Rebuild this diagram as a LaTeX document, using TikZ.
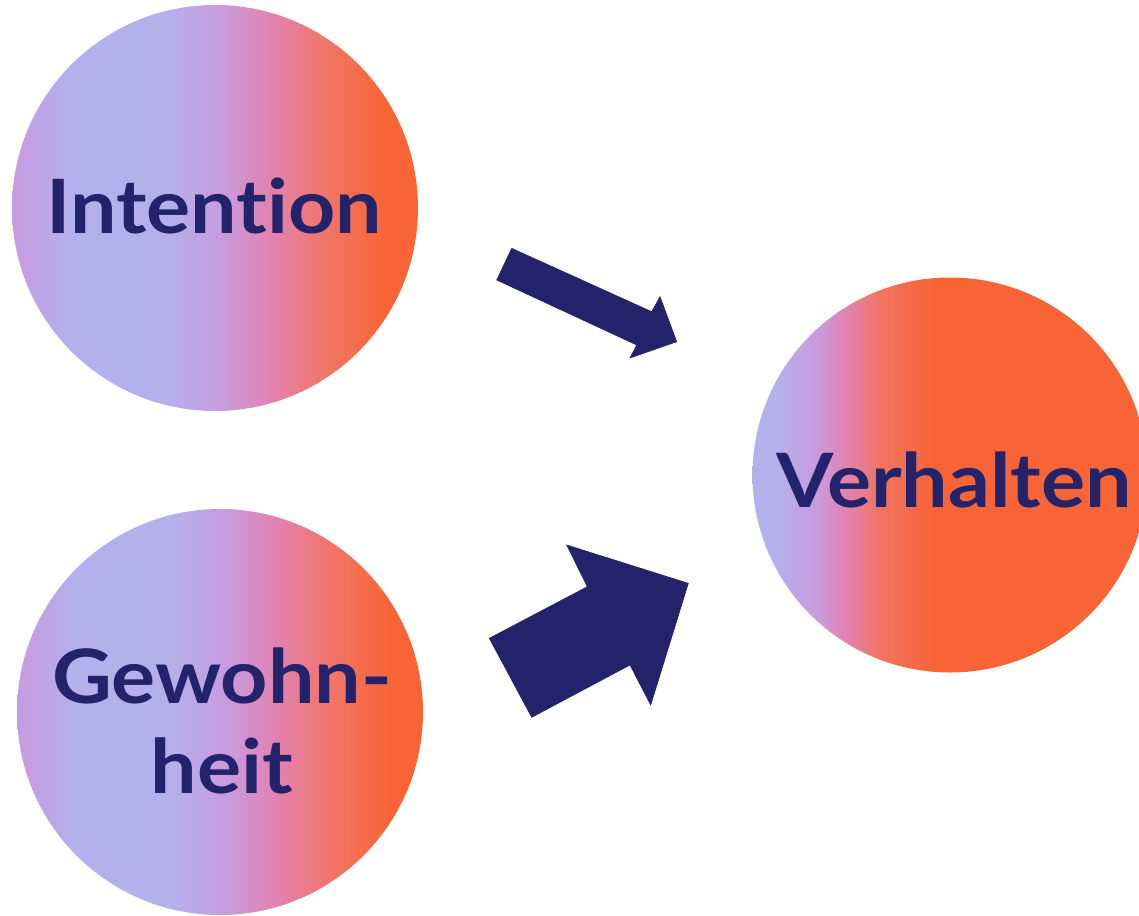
\documentclass[tikz,border=0pt]{standalone}
\usepackage{fontspec}
\setmainfont{Lato}[Ligatures={NoCommon}]
\definecolor{navy}{RGB}{34,35,107}
\definecolor{lav}{RGB}{180,176,236}
\definecolor{lilac}{RGB}{200,155,222}
\definecolor{pinkish}{RGB}{226,130,175}
\definecolor{salmon}{RGB}{242,116,100}
\definecolor{orng}{RGB}{249,100,54}
\pgfdeclarehorizontalshading{ballA}{100bp}{color(0bp)=(lilac); color(25bp)=(lilac); color(32bp)=(lav); color(44bp)=(lav); color(51bp)=(lilac); color(57bp)=(pinkish); color(64bp)=(salmon); color(71bp)=(orng); color(100bp)=(orng)}
\pgfdeclarehorizontalshading{ballB}{100bp}{color(0bp)=(lav); color(25bp)=(lav); color(28bp)=(lav); color(33bp)=(lilac); color(37bp)=(pinkish); color(41bp)=(salmon); color(48bp)=(orng); color(100bp)=(orng)}
\tikzset{
  ball/.style={circle, minimum size=#1, inner sep=0pt, draw=none},
  ballA/.style={ball=406pt, shading=ballA},
  ballB/.style={ball=395pt, shading=ballB},
  lbl/.style={text=navy, font=\fontsize{75}{90}\selectfont\bfseries, align=center, inner sep=0pt, xscale=1.1},
  arrowshape/.style={fill=navy, draw=navy, line width=0.6pt, line join=miter}
}
\begin{document}
\begin{tikzpicture}[x=1pt,y=-1pt]
\useasboundingbox (0,0) rectangle (1139,915);
\node[ballA] (int) at (215,208) {};
\node[ballA] (gew) at (220,712) {};
\node[ballB] (ver) at (950,475) {};
\node[lbl, anchor=base] (intT) at (214,233) {Intention};
\node[lbl, anchor=base] (gewT) at (222,793) {Gewohn-\\heit};
\node[lbl, anchor=base] (verT) at (954,507) {Verhalten};
\draw[arrowshape] (511.7,248.3) -- (651.7,311.7) -- (660,296.7) -- (676.7,341.7) -- (630,358) -- (636.7,345) -- (496.7,280) -- cycle;
\draw[arrowshape] (489.3,638.3) -- (587.3,586.7) -- (566.7,545) -- (688.3,583.3) -- (650.7,705) -- (630,665) -- (531.7,717.3) -- cycle;
\end{tikzpicture}
\end{document}
